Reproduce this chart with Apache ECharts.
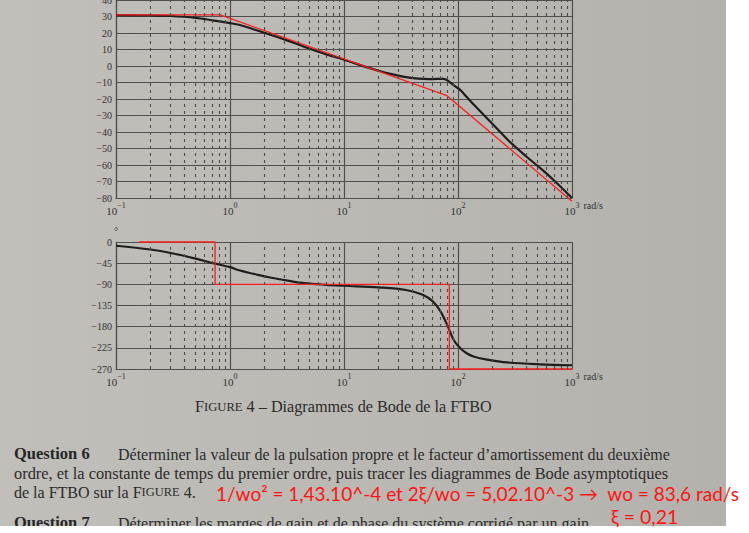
<!DOCTYPE html>
<html><head><meta charset="utf-8">
<script src="https://cdn.jsdelivr.net/npm/echarts@6/dist/echarts.min.js"></script>
<style>
html,body{margin:0;padding:0;background:#fff;overflow:hidden;}
#paper{position:absolute;left:0;top:0;width:726px;height:526px;background:linear-gradient(90deg,#c0bfb9 0%,#b9b8b2 55%,#b3b2ac 100%);}
#chart{position:absolute;left:0;top:0;width:749px;height:533px;}
</style></head><body>
<div id="paper"></div><div id="chart"></div>
<script>
// ---- data ----
const decadeStarts = [0.1, 1, 10, 100];
const minorMultipliers = [2, 3, 4, 5, 6, 7, 8, 9];
const magTickStep = 10;
const phaseTickStep = 45;

const magFreq = [0.1, 0.2, 0.3, 0.5, 0.7, 1, 1.2, 1.6, 2.2, 3.2, 4.5, 7, 10, 15, 20, 28, 36, 45, 55, 65, 75, 83, 92, 105, 120, 140, 200, 280, 400, 550, 750, 1000];
const magDb   = [30.8, 30.6, 30.3, 29.2, 27.7, 26.0, 25.0, 22.3, 19.2, 15.4, 11.6, 7.0, 3.8, -0.2, -2.9, -5.4, -6.9, -7.7, -8.0, -7.8, -7.8, -9.3, -11.8, -14.6, -19.0, -24.0, -35, -45.5, -55, -63, -71.5, -80];

const magAsymFreq = [0.1, 0.82, 80, 1000];
const magAsymDb   = [31, 31, -18, -82];

const phFreq = [0.1, 0.2, 0.31, 0.53, 0.74, 1.0, 1.2, 1.76, 2.3, 3.2, 4.5, 7, 10, 20, 35, 49, 60, 70, 81, 92, 106, 120, 139, 180, 270, 520, 1000];
const phDeg  = [-8, -16, -24, -37, -46, -53.5, -60, -70, -76, -82, -87.5, -91, -93, -96.5, -102, -112, -126, -147, -178, -209, -227, -237, -244, -250, -256, -260, -262];

const phAsymFreq = [0.16, 0.74, 0.74, 84, 84, 1000];
const phAsymDeg  = [0, 0, -90, -90, -270, -270];

// ---- build ----
const zip = (a, b) => a.map((v, i) => [v, b[i]]);
const minorLines = [];
decadeStarts.forEach(d => minorMultipliers.forEach(m => minorLines.push({ xAxis: +(d * m).toPrecision(3) })));

const ink = '#333333';
const gridInk = '#4f4f4f';
const serif = '"Liberation Serif", "DejaVu Serif", serif';

function xLabel(v) {
  const e = Math.round(Math.log10(v));
  return '{b|10}{s|' + (e < 0 ? '\u2212' + (-e) : e) + '}';
}
const xRich = {
  b: { fontSize: 11, fontFamily: serif, color: ink, lineHeight: 15, verticalAlign: 'bottom' },
  s: { fontSize: 8, fontFamily: serif, color: ink, verticalAlign: 'top' }
};

function makeX(gridIndex) {
  return {
    type: 'log', logBase: 10, gridIndex, min: 0.1, max: 1000,
    name: 'rad/s', nameLocation: 'end', nameGap: 5,
    nameTextStyle: { fontFamily: serif, fontSize: 10, color: ink, verticalAlign: 'top', padding: [2, 0, 0, 0] },
    axisLine: { show: true, onZero: false, lineStyle: { color: gridInk, width: 1.2 } },
    axisTick: { show: false },
    axisLabel: { formatter: xLabel, rich: xRich, margin: 3 },
    splitLine: { show: true, lineStyle: { color: gridInk, width: 1.2 } },
    minorTick: { show: false }, minorSplitLine: { show: false }
  };
}
function makeY(gridIndex, min, max, step, name) {
  return {
    type: 'value', gridIndex, min, max, interval: step,
    name, nameLocation: 'end', nameGap: 6,
    nameTextStyle: { fontFamily: serif, fontSize: 10, color: ink, align: 'center' },
    axisLine: { show: true, onZero: false, lineStyle: { color: gridInk, width: 1.2 } },
    axisTick: { show: false },
    axisLabel: { fontFamily: serif, fontSize: 10, color: ink, margin: 4,
      formatter: v => String(v).replace('-', '\u2212') },
    splitLine: { show: true, lineStyle: { color: gridInk, width: 1.2 } }
  };
}
const minorMark = {
  silent: true, symbol: 'none', label: { show: false }, animation: false,
  lineStyle: { type: [3, 4], color: '#4a4a4a', width: 1.1 },
  emphasis: { disabled: true },
  data: minorLines
};

const sc = (size) => ({
  a: { fontFamily: serif, fontSize: size, fill: '#2b2b2b' },
  b: { fontFamily: serif, fontSize: size * 0.78, fill: '#2b2b2b' },
  c: { fontFamily: serif, fontSize: size, fill: '#2b2b2b' }
});

const chart = echarts.init(document.getElementById('chart'), null, { renderer: 'svg' });
chart.setOption({
  animation: false,
  backgroundColor: 'transparent',
  grid: [
    { left: 116, top: 0, width: 456, height: 198, outerBoundsMode: 'none', containLabel: false },
    { left: 116, top: 242, width: 456, height: 127, outerBoundsMode: 'none', containLabel: false }
  ],
  xAxis: [makeX(0), makeX(1)],
  yAxis: [makeY(0, -80, 40, magTickStep, ''), makeY(1, -270, 0, phaseTickStep, '\u00b0')],
  series: [
    { type: 'line', xAxisIndex: 0, yAxisIndex: 0, data: zip(magFreq, magDb), smooth: 0.35,
      showSymbol: false, lineStyle: { color: '#1e1e1e', width: 2.2 }, z: 3, markLine: minorMark },
    { type: 'line', xAxisIndex: 0, yAxisIndex: 0, data: zip(magAsymFreq, magAsymDb), clip: false,
      showSymbol: false, lineStyle: { color: '#ff1c1c', width: 1.3 }, z: 4 },
    { type: 'line', xAxisIndex: 1, yAxisIndex: 1, data: zip(phFreq, phDeg), smooth: 0.35,
      showSymbol: false, lineStyle: { color: '#1e1e1e', width: 2.2 }, z: 3, markLine: minorMark },
    { type: 'line', xAxisIndex: 1, yAxisIndex: 1, data: zip(phAsymFreq, phAsymDeg), clip: false,
      showSymbol: false, lineStyle: { color: '#ff1c1c', width: 1.3 }, z: 4 }
  ],
  graphic: [
    { type: 'text', x: 195, y: 415, z: 10, style: {
      text: '{a|F}{b|IGURE}{c| 4 \u2013 Diagrammes de Bode de la FTBO}', verticalAlign: 'bottom', rich: sc(16.2) } },
    { type: 'text', x: 14, y: 462, z: 10, style: { text: 'Question 6', font: 'bold 16.5px ' + serif, fill: '#262626', verticalAlign: 'bottom' } },
    { type: 'text', x: 118, y: 462, z: 10, style: { text: 'D\u00e9terminer la valeur de la pulsation propre et le facteur d\u2019amortissement du deuxi\u00e8me', font: '16px ' + serif, fill: '#2b2b2b', verticalAlign: 'bottom' } },
    { type: 'text', x: 14, y: 481, z: 10, style: { text: 'ordre, et la constante de temps du premier ordre, puis tracer les diagrammes de Bode asymptotiques', font: '16.4px ' + serif, fill: '#2b2b2b', verticalAlign: 'bottom' } },
    { type: 'text', x: 14, y: 500, z: 10, style: {
      text: '{c|de la FTBO sur la }{a|F}{b|IGURE}{c| 4.}', verticalAlign: 'bottom', rich: sc(16) } },
    { type: 'text', x: 14, y: 531, z: 10, style: { text: 'Question 7', font: 'bold 16.5px ' + serif, fill: '#262626', verticalAlign: 'bottom' } },
    { type: 'text', x: 118, y: 531, z: 10, style: { text: 'D\u00e9terminer les marges de gain et de phase du syst\u00e8me corrig\u00e9 par un gain', font: '16px ' + serif, fill: '#2b2b2b', verticalAlign: 'bottom' } },
    { type: 'rect', z: 11, shape: { x: 0, y: 526, width: 749, height: 7 }, style: { fill: '#ffffff' } },
    { type: 'text', x: 216, y: 503, z: 12, style: { text: '1/wo\u00b2 = 1,43.10^-4 et 2\u03be/wo = 5,02.10^-3 \u2192  wo = 83,6 rad/s', font: '19px Lato, "Noto Sans", sans-serif', fill: '#ff1414', verticalAlign: 'bottom' } },
    { type: 'text', x: 611, y: 526, z: 12, style: { text: '\u03be = 0,21', font: '19.5px Lato, "Noto Sans", sans-serif', fill: '#ff1414', verticalAlign: 'bottom' } }
  ]
});
</script></body></html>
